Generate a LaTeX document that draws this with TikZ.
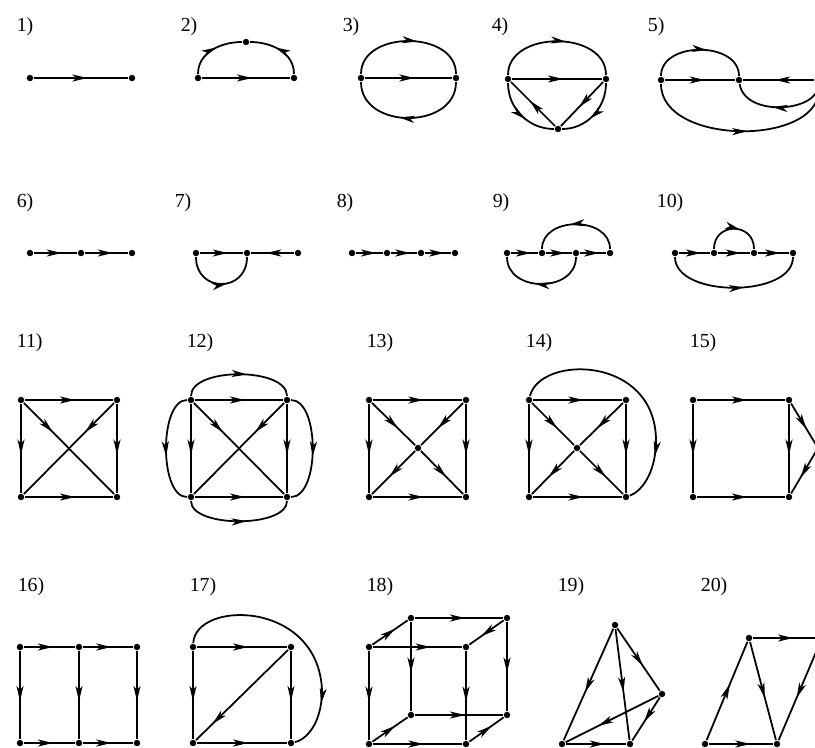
\documentclass[tikz,border=0pt]{standalone}
\usepackage{fontspec}
\setmainfont{Liberation Serif}
\usetikzlibrary{arrows.meta,decorations.markings}

\begin{document}
\begin{tikzpicture}[x=0.03cm,y=0.03cm,line width=1.5pt,
  dot/.style={circle,fill,inner sep=0pt,minimum size=5.5pt},
  arr/.style={postaction={decorate,decoration={markings,mark=at position #1 with {\arrow{Stealth[length=13pt,width=6pt,inset=3.5pt]}}}}},
  arr/.default=0.57,
  lbl/.style={anchor=base west,font=\fontsize{17}{20}\selectfont}]
  \useasboundingbox (0,0) rectangle (815,-747);
  \clip (0,0) rectangle (815,-747);

  % row 1
  \node[lbl] (l1) at (12,-31) {1)};
  \node[dot] (a1) at (30,-78) {};
  \node[dot] (b1) at (132,-78) {};
  \draw[arr] (a1) -- (b1);

  \node[lbl] (l2) at (176,-31) {2)};
  \node[dot] (a2) at (198,-78) {};
  \node[dot] (b2) at (294,-78) {};
  \node[dot] (c2) at (246,-42) {};
  \draw[arr] (a2) -- (b2);
  \draw[arr] (a2) to[out=90,in=180] (c2);
  \draw[arr] (b2) to[out=90,in=0] (c2);

  \node[lbl] (l3) at (338,-31) {3)};
  \node[dot] (a3) at (361,-78) {};
  \node[dot] (b3) at (456,-78) {};
  \draw[arr] (a3) -- (b3);
  \draw[arr] (a3) .. controls +(0,48) and +(0,48) .. (b3);
  \draw[arr] (b3) .. controls +(0,-52) and +(0,-52) .. (a3);

  \node[lbl] (l4) at (487,-31) {4)};
  \node[dot] (a4) at (508,-79) {};
  \node[dot] (b4) at (606,-79) {};
  \node[dot] (c4) at (558,-129) {};
  \draw[arr] (a4) -- (b4);
  \draw[arr] (a4) .. controls +(0,49) and +(0,49) .. (b4);
  \draw[arr] (a4) to[out=-90,in=180] (c4);
  \draw[arr] (b4) to[out=-90,in=0] (c4);
  \draw[arr] (c4) -- (a4);
  \draw[arr] (b4) -- (c4);

  \node[lbl] (l5) at (643,-31) {5)};
  \node[dot] (a5) at (661,-80) {};
  \node[dot] (b5) at (739,-80) {};
  \node[dot] (c5) at (818,-80) {};
  \draw[arr] (a5) -- (b5);
  \draw[arr] (a5) .. controls +(0,39) and +(0,39) .. (b5);
  \draw[arr=0.55] (c5) -- (b5);
  \draw[arr] (c5) .. controls +(2,-32) and +(6,-38) .. (b5);
  \draw[arr=0.53] (a5) .. controls +(0,-67) and +(10,-67) .. (c5);

  % row 2
  \node[lbl] (l6) at (12,-207) {6)};
  \node[dot] (a6) at (30,-253) {};
  \node[dot] (b6) at (81,-253) {};
  \node[dot] (c6) at (132,-253) {};
  \draw[arr=0.65] (a6) -- (b6);
  \draw[arr=0.65] (b6) -- (c6);

  \node[lbl] (l7) at (170,-207) {7)};
  \node[dot] (a7) at (196,-253) {};
  \node[dot] (b7) at (247,-253) {};
  \node[dot] (c7) at (298,-253) {};
  \draw[arr=0.65] (a7) -- (b7);
  \draw[arr=0.65] (c7) -- (b7);
  \draw[arr] (a7) .. controls +(0,-40) and +(0,-40) .. (b7);

  \node[lbl] (l8) at (332,-207) {8)};
  \foreach \i/\x in {1/352,2/387,3/421,4/455}
    \node[dot] (n8\i) at (\x,-253) {};
  \foreach \i/\j in {1/2,2/3,3/4}
    \draw[arr=0.75] (n8\i) -- (n8\j);

  \node[lbl] (l9) at (488,-207) {9)};
  \node[dot] (a9) at (507,-253) {};
  \node[dot] (b9) at (542,-253) {};
  \node[dot] (c9) at (576,-253) {};
  \node[dot] (d9) at (610,-253) {};
  \draw[arr=0.75] (a9) -- (b9);
  \draw[arr=0.75] (b9) -- (c9);
  \draw[arr=0.75] (c9) -- (d9);
  \draw[arr] (d9) .. controls +(0,37) and +(0,37) .. (b9);
  \draw[arr] (c9) .. controls +(0,-40) and +(0,-40) .. (a9);

  \node[lbl] (l10) at (652,-207) {10)};
  \node[dot] (a10) at (675,-253) {};
  \node[dot] (b10) at (714,-253) {};
  \node[dot] (c10) at (754,-253) {};
  \node[dot] (d10) at (793,-253) {};
  \draw[arr=0.72] (a10) -- (b10);
  \draw[arr=0.72] (b10) -- (c10);
  \draw[arr=0.72] (c10) -- (d10);
  \draw[arr=0.6] (b10) .. controls +(0,31) and +(0,31) .. (c10);
  \draw[arr] (a10) .. controls +(0,-45) and +(0,-45) .. (d10);

  % row 3
  \node[lbl] (l11) at (12,-347) {11)};
  \node[dot] (tl11) at (21,-400) {};
  \node[dot] (tr11) at (117,-400) {};
  \node[dot] (bl11) at (21,-497) {};
  \node[dot] (br11) at (117,-497) {};
  \draw[arr] (tl11) -- (tr11);
  \draw[arr] (bl11) -- (br11);
  \draw[arr] (tl11) -- (bl11);
  \draw[arr] (tr11) -- (br11);
  \draw[arr=0.32] (tl11) -- (br11);
  \draw[arr=0.32] (tr11) -- (bl11);

  \node[lbl] (l12) at (182,-347) {12)};
  \node[dot] (tl12) at (191,-400) {};
  \node[dot] (tr12) at (287,-400) {};
  \node[dot] (bl12) at (191,-497) {};
  \node[dot] (br12) at (287,-497) {};
  \draw[arr] (tl12) -- (tr12);
  \draw[arr] (bl12) -- (br12);
  \draw[arr] (tl12) -- (bl12);
  \draw[arr] (tr12) -- (br12);
  \draw[arr=0.32] (tl12) -- (br12);
  \draw[arr=0.32] (tr12) -- (bl12);
  \draw[arr] (tl12) .. controls +(0,33) and +(0,33) .. (tr12);
  \draw[arr] (bl12) .. controls +(0,-31) and +(0,-31) .. (br12);
  \draw[arr] (tl12) .. controls +(-32,0) and +(-32,0) .. (bl12);
  \draw[arr] (tr12) .. controls +(33,0) and +(33,0) .. (br12);

  \node[lbl] (l13) at (362,-347) {13)};
  \node[dot] (tl13) at (369,-400) {};
  \node[dot] (tr13) at (466,-400) {};
  \node[dot] (bl13) at (369,-497) {};
  \node[dot] (br13) at (466,-497) {};
  \node[dot] (c13) at (418,-448) {};
  \draw[arr] (tl13) -- (tr13);
  \draw[arr] (bl13) -- (br13);
  \draw[arr] (tl13) -- (bl13);
  \draw[arr] (tr13) -- (br13);
  \draw[arr=0.6] (tl13) -- (c13);
  \draw[arr=0.6] (tr13) -- (c13);
  \draw[arr=0.6] (c13) -- (bl13);
  \draw[arr=0.6] (c13) -- (br13);

  \node[lbl] (l14) at (521,-347) {14)};
  \node[dot] (tl14) at (529,-400) {};
  \node[dot] (tr14) at (626,-400) {};
  \node[dot] (bl14) at (529,-497) {};
  \node[dot] (br14) at (626,-497) {};
  \node[dot] (c14) at (577,-448) {};
  \coordinate (e14) at (656,-440);
  \draw[arr] (tl14) -- (tr14);
  \draw[arr] (bl14) -- (br14);
  \draw[arr] (tl14) -- (bl14);
  \draw[arr] (tr14) -- (br14);
  \draw[arr=0.6] (tl14) -- (c14);
  \draw[arr=0.6] (tr14) -- (c14);
  \draw[arr=0.6] (c14) -- (bl14);
  \draw[arr=0.6] (c14) -- (br14);
  \draw[arr=0.8] (tl14) .. controls (540,-355) and (655,-355) .. (e14)
    .. controls (656,-475) and (640,-492) .. (br14);

  \node[lbl] (l15) at (685,-347) {15)};
  \node[dot] (tl15) at (693,-400) {};
  \node[dot] (tr15) at (789,-400) {};
  \node[dot] (bl15) at (693,-497) {};
  \node[dot] (br15) at (789,-497) {};
  \node[dot] (r15) at (818,-448) {};
  \draw[arr] (tl15) -- (tr15);
  \draw[arr] (bl15) -- (br15);
  \draw[arr] (tl15) -- (bl15);
  \draw[arr] (tr15) -- (br15);
  \draw[arr=0.62] (tr15) -- (r15);
  \draw[arr=0.62] (r15) -- (br15);

  % row 4
  \node[lbl] (l16) at (13,-591) {16)};
  \foreach \i/\x in {1/20,2/79,3/137}{
    \node[dot] (t16\i) at (\x,-647) {};
    \node[dot] (b16\i) at (\x,-743) {};
    \draw[arr] (t16\i) -- (b16\i);
  }
  \draw[arr] (t161) -- (t162);
  \draw[arr] (t162) -- (t163);
  \draw[arr] (b161) -- (b162);
  \draw[arr] (b162) -- (b163);

  \node[lbl] (l17) at (185,-591) {17)};
  \node[dot] (tl17) at (193,-647) {};
  \node[dot] (tr17) at (291,-647) {};
  \node[dot] (bl17) at (193,-743) {};
  \node[dot] (br17) at (291,-743) {};
  \coordinate (e17) at (322,-690);
  \draw[arr] (tl17) -- (tr17);
  \draw[arr] (bl17) -- (br17);
  \draw[arr] (tl17) -- (bl17);
  \draw[arr] (tr17) -- (br17);
  \draw[arr=0.82] (tr17) -- (bl17);
  \draw[arr=0.8] (tl17) .. controls (196,-600) and (318,-600) .. (e17)
    .. controls (322,-725) and (305,-740) .. (br17);

  \node[lbl] (l18) at (362,-591) {18)};
  \node[dot] (ftl) at (369,-647) {};
  \node[dot] (ftr) at (466,-647) {};
  \node[dot] (fbl) at (369,-744) {};
  \node[dot] (fbr) at (466,-744) {};
  \node[dot] (btl) at (411,-618) {};
  \node[dot] (btr) at (507,-618) {};
  \node[dot] (bbl) at (411,-715) {};
  \node[dot] (bbr) at (507,-715) {};
  \draw[arr=0.65] (ftl) -- (btl);
  \draw[arr] (btl) -- (btr);
  \draw[arr=0.65] (btr) -- (ftr);
  \draw[arr=0.65] (ftl) -- (ftr);
  \draw[arr] (ftl) -- (fbl);
  \draw[arr] (btl) -- (bbl);
  \draw[arr] (ftr) -- (fbr);
  \draw[arr] (btr) -- (bbr);
  \draw[arr] (bbl) -- (bbr);
  \draw[arr] (fbl) -- (fbr);
  \draw[arr=0.65] (fbl) -- (bbl);
  \draw[arr=0.65] (fbr) -- (bbr);

  \node[lbl] (l19) at (553,-591) {19)};
  \node[dot] (t19) at (615,-625) {};
  \node[dot] (r19) at (662,-694) {};
  \node[dot] (bl19) at (562,-744) {};
  \node[dot] (br19) at (630,-744) {};
  \draw[arr] (t19) -- (bl19);
  \draw[arr] (t19) -- (br19);
  \draw[arr=0.6] (t19) -- (r19);
  \draw[arr=0.65] (r19) -- (bl19);
  \draw[arr] (r19) -- (br19);
  \draw[arr=0.65] (bl19) -- (br19);

  \node[lbl] (l20) at (696,-591) {20)};
  \node[dot] (tl20) at (749,-638) {};
  \node[dot] (tr20) at (822,-638) {};
  \node[dot] (bl20) at (705,-744) {};
  \node[dot] (bm20) at (777,-744) {};
  \draw[arr] (bl20) -- (tl20);
  \draw[arr] (tl20) -- (bm20);
  \draw[arr=0.62] (tl20) -- (tr20);
  \draw[arr] (tr20) -- (bm20);
  \draw[arr=0.65] (bl20) -- (bm20);
\end{tikzpicture}
\end{document}
